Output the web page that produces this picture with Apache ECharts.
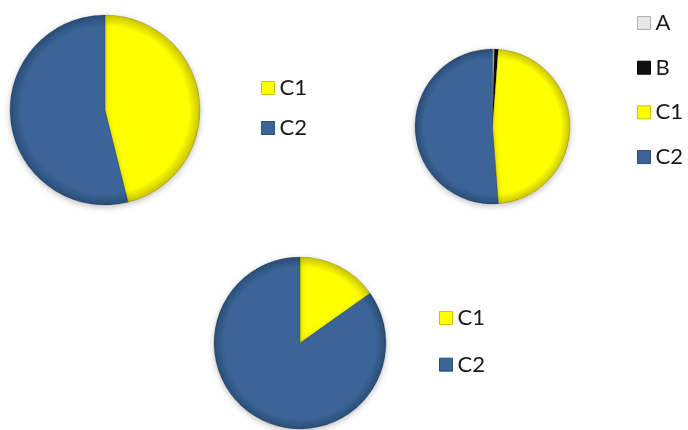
<!DOCTYPE html>
<html>
<head>
<meta charset="utf-8">
<script src="https://cdn.jsdelivr.net/npm/echarts@6/dist/echarts.min.js"></script>
<style>
html,body{margin:0;padding:0;background:#fff;}
#chart{width:688px;height:430px;}
</style>
</head>
<body>
<div id="chart"></div>
<script>
// Data
const pie1Names = ['C1', 'C2'];
const pie1Values = [46.1, 53.9];
const pie2Names = ['A', 'B', 'C1', 'C2'];
const pie2Values = [0.4, 0.8, 47.6, 51.2];
const pie3Names = ['C1', 'C2'];
const pie3Values = [15.2, 84.8];

const baseColors = { A: '#E6E6E6', B: '#101010', C1: '#FFFF00', C2: '#3A6596' };
const rimColors = { A: '#B0B0B0', B: '#000000', C1: '#C9C400', C2: '#2A4D78' };

function grad(name, cx, cy, r) {
  return {
    type: 'radial', x: cx, y: cy, r: r, global: true,
    colorStops: [
      { offset: 0, color: baseColors[name] },
      { offset: 0.88, color: baseColors[name] },
      { offset: 1, color: rimColors[name] }
    ]
  };
}

function makeSeries(names, values, cx, cy, r) {
  return {
    type: 'pie',
    center: [cx, cy],
    radius: [0, r],
    startAngle: 90,
    clockwise: true,
    label: { show: false },
    labelLine: { show: false },
    emphasis: { disabled: true },
    animation: false,
    itemStyle: {
      borderColor: 'rgba(0,0,0,0.25)',
      borderWidth: 0.6,
      shadowBlur: 6,
      shadowColor: 'rgba(0,0,0,0.25)',
      shadowOffsetY: 2
    },
    data: names.map((n, i) => ({
      name: n, value: values[i],
      itemStyle: { color: grad(n, cx, cy, r) }
    }))
  };
}

function makeLegend(names, left, top, gap) {
  return {
    orient: 'vertical',
    left: left, top: top,
    padding: 0,
    itemWidth: 13, itemHeight: 13,
    itemGap: gap,
    itemTextGap: 7,
    selectedMode: false,
    icon: 'rect',
    textStyle: { fontFamily: 'Lato', fontSize: 22, color: '#1a1a1a', lineHeight: 22 },
    data: names.map(n => ({ name: n, itemStyle: { color: baseColors[n], borderColor: rimColors[n], borderWidth: 1 } }))
  };
}

const chart = echarts.init(document.getElementById('chart'), null, { renderer: 'canvas' });
chart.setOption({
  animation: false,
  backgroundColor: '#ffffff',
  legend: [
    makeLegend(pie1Names, 261, 77, 18),
    makeLegend(pie2Names, 637, 12, 22.7),
    makeLegend(pie3Names, 439, 307, 24.7)
  ],
  series: [
    makeSeries(pie1Names, pie1Values, 105, 110, 95),
    makeSeries(pie2Names, pie2Values, 492.5, 126.5, 77.5),
    makeSeries(pie3Names, pie3Values, 300, 343, 86)
  ]
});
</script>
</body>
</html>
